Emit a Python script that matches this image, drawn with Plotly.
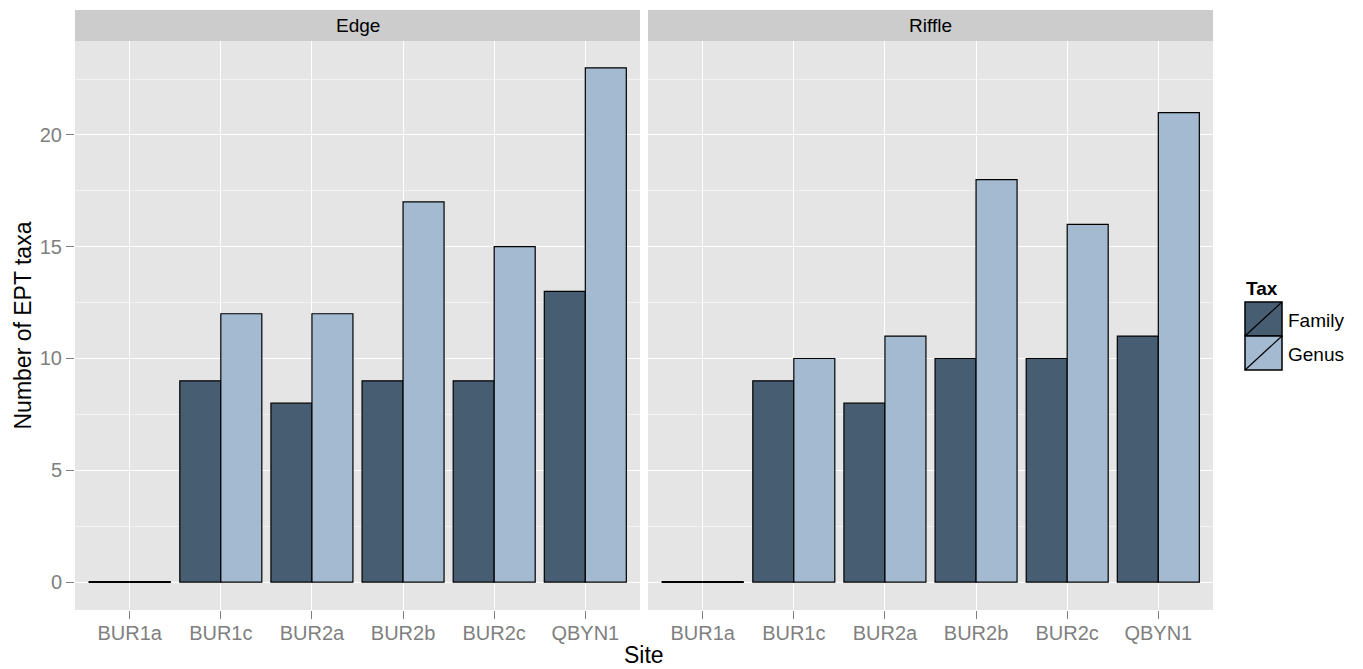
import plotly.graph_objects as go

# EPT taxa richness per site, by habitat and taxonomic resolution
sites = ["BUR1a", "BUR1c", "BUR2a", "BUR2b", "BUR2c", "QBYN1"]
habitats = ["Edge", "Riffle"]
edge_family = [0, 9, 8, 9, 9, 13]
edge_genus = [0, 12, 12, 17, 15, 23]
riffle_family = [0, 9, 8, 10, 10, 11]
riffle_genus = [0, 10, 11, 18, 16, 21]
tax_levels = ["Family", "Genus"]
y_ticks = [0, 5, 10, 15, 20]

values = {
    ("Edge", "Family"): edge_family,
    ("Edge", "Genus"): edge_genus,
    ("Riffle", "Family"): riffle_family,
    ("Riffle", "Genus"): riffle_genus,
}
colors = {"Family": "#475D71", "Genus": "#A3BAD1"}
offsets = {"Family": -0.225, "Genus": 0.225}
bar_w = 0.45

W, H = 1363, 669
L, R, T, B = 75, 1213, 41, 610          # plot area in pixels
PW, PH = R - L, B - T
gap = 8
panel_w = (PW - gap) / 2


def px(xp):
    return (xp - L) / PW


def py(yp):
    return (B - yp) / PH


fig = go.Figure()
positions = list(range(1, len(sites) + 1))

for k, hab in enumerate(habitats):
    xa = "x" if k == 0 else "x2"
    for tax in tax_levels:
        vals = values[(hab, tax)]
        xs = [p + offsets[tax] for p in positions]
        fig.add_trace(go.Bar(
            x=xs, y=vals, width=bar_w, xaxis=xa, yaxis="y",
            marker=dict(color=colors[tax], line=dict(color="black", width=1.2)),
            name=tax, showlegend=False, hoverinfo="x+y",
        ))
        # zero counts are drawn as a flat outline at the baseline
        for x0, v in zip(xs, vals):
            if v == 0:
                fig.add_trace(go.Scatter(
                    x=[x0 - bar_w / 2, x0 + bar_w / 2], y=[v, v],
                    mode="lines", line=dict(color="black", width=2),
                    xaxis=xa, yaxis="y", showlegend=False, hoverinfo="skip",
                ))

grey_tick = "#7F7F7F"
font_family = "Liberation Sans, Arial, sans-serif"
tick_size = 20

xaxis_common = dict(
    range=[0.4, 6.6], tickmode="array", tickvals=positions, ticktext=sites,
    showgrid=True, gridcolor="white", gridwidth=1.3, zeroline=False,
    ticks="outside", ticklen=8, tickcolor=grey_tick, tickwidth=1.3,
    tickfont=dict(size=tick_size, color=grey_tick, family=font_family),
    ticklabelstandoff=-3,
    showline=False, anchor="y",
)

d1 = [0, panel_w / PW]
d2 = [(panel_w + gap) / PW, 1]

fig.update_layout(
    width=W, height=H,
    margin=dict(l=L, r=W - R, t=T, b=H - B),
    paper_bgcolor="white", plot_bgcolor="#E5E5E5",
    barmode="overlay",
    xaxis=dict(domain=d1, **xaxis_common),
    xaxis2=dict(domain=d2, **xaxis_common),
    yaxis=dict(
        range=[-1.25, 24.2], tickmode="array", tickvals=y_ticks,
        showgrid=True, gridcolor="white", gridwidth=1.3, zeroline=False,
        ticks="outside", ticklen=8, tickcolor=grey_tick, tickwidth=1.3,
        tickfont=dict(size=tick_size, color=grey_tick, family=font_family),
        minor=dict(dtick=2.5, tick0=0, showgrid=True, gridcolor="#F2F2F2", gridwidth=0.7, ticks=""),
        domain=[0, 1],
    ),
    font=dict(family=font_family),
    showlegend=False,
)

# white gutter between the two panels
fig.add_shape(type="rect", xref="paper", yref="paper",
              x0=d1[1], x1=d2[0], y0=0, y1=1,
              fillcolor="white", line=dict(width=0), layer="above")

# panel strips
strip_h = (T - 10) / PH
for dom, hab in zip([d1, d2], habitats):
    fig.add_shape(type="rect", xref="paper", yref="paper",
                  x0=dom[0], x1=dom[1], y0=1, y1=1 + strip_h,
                  fillcolor="#CCCCCC", line=dict(width=0))
    fig.add_annotation(x=(dom[0] + dom[1]) / 2, y=1 + strip_h / 2,
                       xref="paper", yref="paper", text=hab, showarrow=False,
                       font=dict(size=19, color="black", family=font_family),
                       xanchor="center", yanchor="middle")

# axis titles
fig.add_annotation(x=0.5, y=py(655), xref="paper", yref="paper", text="Site",
                   showarrow=False, font=dict(size=23, color="black", family=font_family),
                   xanchor="center", yanchor="middle")
fig.add_annotation(x=px(22), y=0.5, xref="paper", yref="paper", text="Number of EPT taxa",
                   textangle=-90, showarrow=False,
                   font=dict(size=23, color="black", family=font_family),
                   xanchor="center", yanchor="middle")

# legend
fig.add_annotation(x=px(1244), y=py(288), xref="paper", yref="paper", text="<b>Tax</b>",
                   showarrow=False, font=dict(size=19, color="black", family=font_family),
                   xanchor="left", yanchor="middle")
key_x0, key_x1 = 1245, 1282
key_top = 302
key_h = 34
for i, tax in enumerate(tax_levels):
    y0p = key_top + i * key_h
    y1p = y0p + key_h
    fig.add_shape(type="rect", xref="paper", yref="paper",
                  x0=px(key_x0), x1=px(key_x1), y0=py(y1p), y1=py(y0p),
                  fillcolor=colors[tax], line=dict(color="black", width=1.5))
    fig.add_shape(type="line", xref="paper", yref="paper",
                  x0=px(key_x0), x1=px(key_x1), y0=py(y1p), y1=py(y0p),
                  line=dict(color="black", width=1.2))
    fig.add_annotation(x=px(key_x1 + 4), y=py((y0p + y1p) / 2 + 1), xref="paper", yref="paper",
                       text=tax, showarrow=False,
                       font=dict(size=19, color="black", family=font_family),
                       xanchor="left", yanchor="middle")

fig.write_html("out.html")
